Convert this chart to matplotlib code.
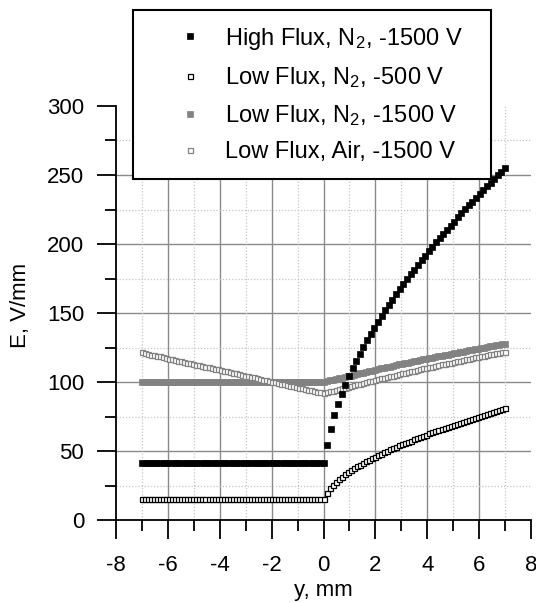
import numpy as np
import matplotlib
matplotlib.use("Agg")
import matplotlib.pyplot as plt

plt.rcParams['font.family'] = ['Liberation Sans', 'DejaVu Sans']
plt.rcParams['mathtext.fontset'] = 'custom'
plt.rcParams['mathtext.rm'] = 'Liberation Sans'
plt.rcParams['mathtext.it'] = 'Liberation Sans'
plt.rcParams['axes.unicode_minus'] = False

# ---- data ----
# sampling grids (mm)
y_hf = np.linspace(-7, 7, 101)      # high-flux series grid
y_lf = np.linspace(-7, 7, 121)      # low-flux series grids

E_hf_n2_1500 = [
    41, 41, 41, 41, 41, 41, 41, 41, 41, 41, 41, 41, 41, 41, 41, 41, 41,
    41, 41, 41, 41, 41, 41, 41, 41, 41, 41, 41, 41, 41, 41, 41, 41, 41,
    41, 41, 41, 41, 41, 41, 41, 41, 41, 41, 41, 41, 41, 41, 41, 41, 41,
    54.0, 66.3, 75.9, 84.1, 91.3, 98.0, 104.1, 109.9, 115.3, 120.5,
    125.5, 130.2, 134.8, 139.3, 143.6, 147.8, 151.9, 155.9, 159.7, 163.5,
    167.3, 170.9, 174.5, 178.0, 181.5, 184.9, 188.2, 191.5, 194.7, 198.0,
    201.1, 204.2, 207.3, 210.4, 213.4, 216.3, 219.3, 222.2, 225.1, 227.9,
    230.7, 233.5, 236.3, 239.0, 241.8, 244.5, 247.1, 249.8, 252.4, 255.0,
]

E_lf_n2_500 = [
    15, 15, 15, 15, 15, 15, 15, 15, 15, 15, 15, 15, 15, 15, 15, 15, 15,
    15, 15, 15, 15, 15, 15, 15, 15, 15, 15, 15, 15, 15, 15, 15, 15, 15,
    15, 15, 15, 15, 15, 15, 15, 15, 15, 15, 15, 15, 15, 15, 15, 15, 15,
    15, 15, 15, 15, 15, 15, 15, 15, 15, 15,
    19.9, 23.1, 25.7, 27.8, 29.8, 31.5, 33.2, 34.7, 36.2, 37.6,
    38.9, 40.2, 41.4, 42.6, 43.8, 44.9, 46.0, 47.1, 48.1, 49.2,
    50.2, 51.1, 52.1, 53.1, 54.0, 54.9, 55.8, 56.7, 57.6, 58.5,
    59.3, 60.2, 61.0, 61.9, 62.7, 63.5, 64.3, 65.1, 65.9, 66.7,
    67.4, 68.2, 69.0, 69.7, 70.5, 71.2, 71.9, 72.7, 73.4, 74.1,
    74.8, 75.5, 76.2, 76.9, 77.6, 78.3, 79.0, 79.7, 80.3, 81.0,
]

E_lf_n2_1500 = [
    100, 100, 100, 100, 100, 100, 100, 100, 100, 100, 100, 100, 100, 100,
    100, 100, 100, 100, 100, 100, 100, 100, 100, 100, 100, 100, 100, 100,
    100, 100, 100, 100, 100, 100, 100, 100, 100, 100, 100, 100, 100, 100,
    100, 100, 100, 100, 100, 100, 100, 100, 100, 100, 100, 100, 100, 100,
    100, 100, 100, 100, 100,
    100.5, 101.1, 101.6, 102.1, 102.7, 103.2, 103.7, 104.2, 104.7, 105.2,
    105.8, 106.3, 106.8, 107.3, 107.8, 108.3, 108.8, 109.3, 109.8, 110.2,
    110.7, 111.2, 111.7, 112.2, 112.7, 113.1, 113.6, 114.1, 114.5, 115.0,
    115.5, 115.9, 116.4, 116.8, 117.3, 117.7, 118.2, 118.6, 119.1, 119.5,
    119.9, 120.4, 120.8, 121.2, 121.7, 122.1, 122.5, 122.9, 123.4, 123.8,
    124.2, 124.6, 125.0, 125.4, 125.8, 126.2, 126.6, 127.0, 127.4, 127.8,
]

E_lf_air_1500 = [
    121.4, 120.9, 120.4, 119.9, 119.4, 118.9, 118.5, 118.0, 117.5, 117.0,
    116.5, 116.0, 115.5, 115.0, 114.5, 114.1, 113.6, 113.1, 112.6, 112.1,
    111.6, 111.1, 110.6, 110.1, 109.6, 109.2, 108.7, 108.2, 107.7, 107.2,
    106.7, 106.2, 105.7, 105.2, 104.7, 104.3, 103.8, 103.3, 102.8, 102.3,
    101.8, 101.3, 100.8, 100.3, 99.8, 99.4, 98.9, 98.4, 97.9, 97.4,
    96.9, 96.4, 95.9, 95.4, 94.9, 94.5, 94.0, 93.5, 93.0, 92.5, 92.0,
    92.6, 93.2, 93.7, 94.3, 94.9, 95.5, 96.0, 96.6, 97.1, 97.7,
    98.3, 98.8, 99.4, 99.9, 100.4, 101.0, 101.5, 102.1, 102.6, 103.1,
    103.6, 104.2, 104.7, 105.2, 105.7, 106.2, 106.8, 107.3, 107.8, 108.3,
    108.8, 109.3, 109.8, 110.3, 110.8, 111.2, 111.7, 112.2, 112.7, 113.2,
    113.6, 114.1, 114.6, 115.0, 115.5, 116.0, 116.4, 116.9, 117.3, 117.8,
    118.2, 118.7, 119.1, 119.5, 120.0, 120.4, 120.8, 121.3, 121.7, 122.1,
]

labels = [
    r"High Flux, N$_2$, -1500 V",
    r"Low Flux, N$_2$, -500 V",
    r"Low Flux, N$_2$, -1500 V",
    r"Low Flux, Air, -1500 V",
]

x_major = [-8, -6, -4, -2, 0, 2, 4, 6, 8]
y_major = [0, 50, 100, 150, 200, 250, 300]
x_minor = [-7, -5, -3, -1, 1, 3, 5, 7]
y_minor = [25, 75, 125, 175, 225, 275]

# ---- figure ----
W, H = 536, 603
fig = plt.figure(figsize=(W / 100, H / 100), dpi=100)
ax_x0, ax_x1, ax_y0, ax_y1 = 116, 531, 106, 520
ax = fig.add_axes([ax_x0 / W, 1 - ax_y1 / H, (ax_x1 - ax_x0) / W,
                   (ax_y1 - ax_y0) / H])

GRAY = "#828282"

ax.plot(y_hf, E_hf_n2_1500, ls="none", marker="s", ms=4.0, mfc="black",
        mec="black", mew=0.5, zorder=6, label=labels[0])
ax.plot(y_lf, E_lf_n2_500, ls="none", marker="s", ms=3.6, mfc="white",
        mec="black", mew=0.9, zorder=5, label=labels[1])
ax.plot(y_lf, E_lf_n2_1500, ls="none", marker="s", ms=4.2, mfc=GRAY,
        mec=GRAY, mew=0.5, zorder=3, label=labels[2])
ax.plot(y_lf, E_lf_air_1500, ls="none", marker="s", ms=3.6, mfc="white",
        mec=GRAY, mew=0.9, zorder=4, label=labels[3])

ax.set_xlim(-8, 8)
ax.set_ylim(0, 300)
ax.set_xticks(x_major)
ax.set_yticks(y_major)
ax.set_xticks(x_minor, minor=True)
ax.set_yticks(y_minor, minor=True)

# grid lines (interior only)
for xv in x_major[1:-1]:
    ax.axvline(xv, color="#8a8a8a", lw=1.0, zorder=1)
for yv in y_major[1:-1]:
    ax.axhline(yv, color="#8a8a8a", lw=1.0, zorder=1)
for xv in x_minor:
    ax.axvline(xv, color="#c4c4c4", lw=0.9, ls=(0, (1, 1.5)), zorder=1)
for yv in y_minor:
    ax.axhline(yv, color="#c4c4c4", lw=0.9, ls=(0, (1, 1.5)), zorder=1)

for s in ["top", "right"]:
    ax.spines[s].set_visible(False)
for s in ["left", "bottom"]:
    ax.spines[s].set_linewidth(1.3)
ax.tick_params(which="major", direction="out", length=14, width=1.3,
               labelsize=16)
ax.tick_params(axis="x", which="major", pad=11)
ax.tick_params(axis="y", which="major", pad=9)
ax.tick_params(which="minor", direction="out", length=8, width=1.3)

ax.set_xlabel("y, mm", fontsize=16, va="top")
ax.set_ylabel("E, V/mm", fontsize=16, va="bottom")
ax.xaxis.set_label_coords((323 - ax_x0) / (ax_x1 - ax_x0),
                          (ax_y1 - 580) / (ax_y1 - ax_y0))
ax.yaxis.set_label_coords((31 - ax_x0) / (ax_x1 - ax_x0),
                          (ax_y1 - 305) / (ax_y1 - ax_y0))

leg = fig.legend(loc="upper left",
                 bbox_to_anchor=(133 / W, 1 - 178 / H, (491 - 133) / W,
                                 (178 - 10) / H),
                 mode="expand",
                 fontsize=17, numpoints=1, frameon=True, fancybox=False,
                 edgecolor="black", framealpha=1, borderpad=0.66,
                 labelspacing=0.56, handlelength=3.5, handletextpad=-0.25,
                 borderaxespad=0, markerscale=1.0)
leg.get_frame().set_linewidth(1.5)

fig.savefig("out.png", dpi=100)
